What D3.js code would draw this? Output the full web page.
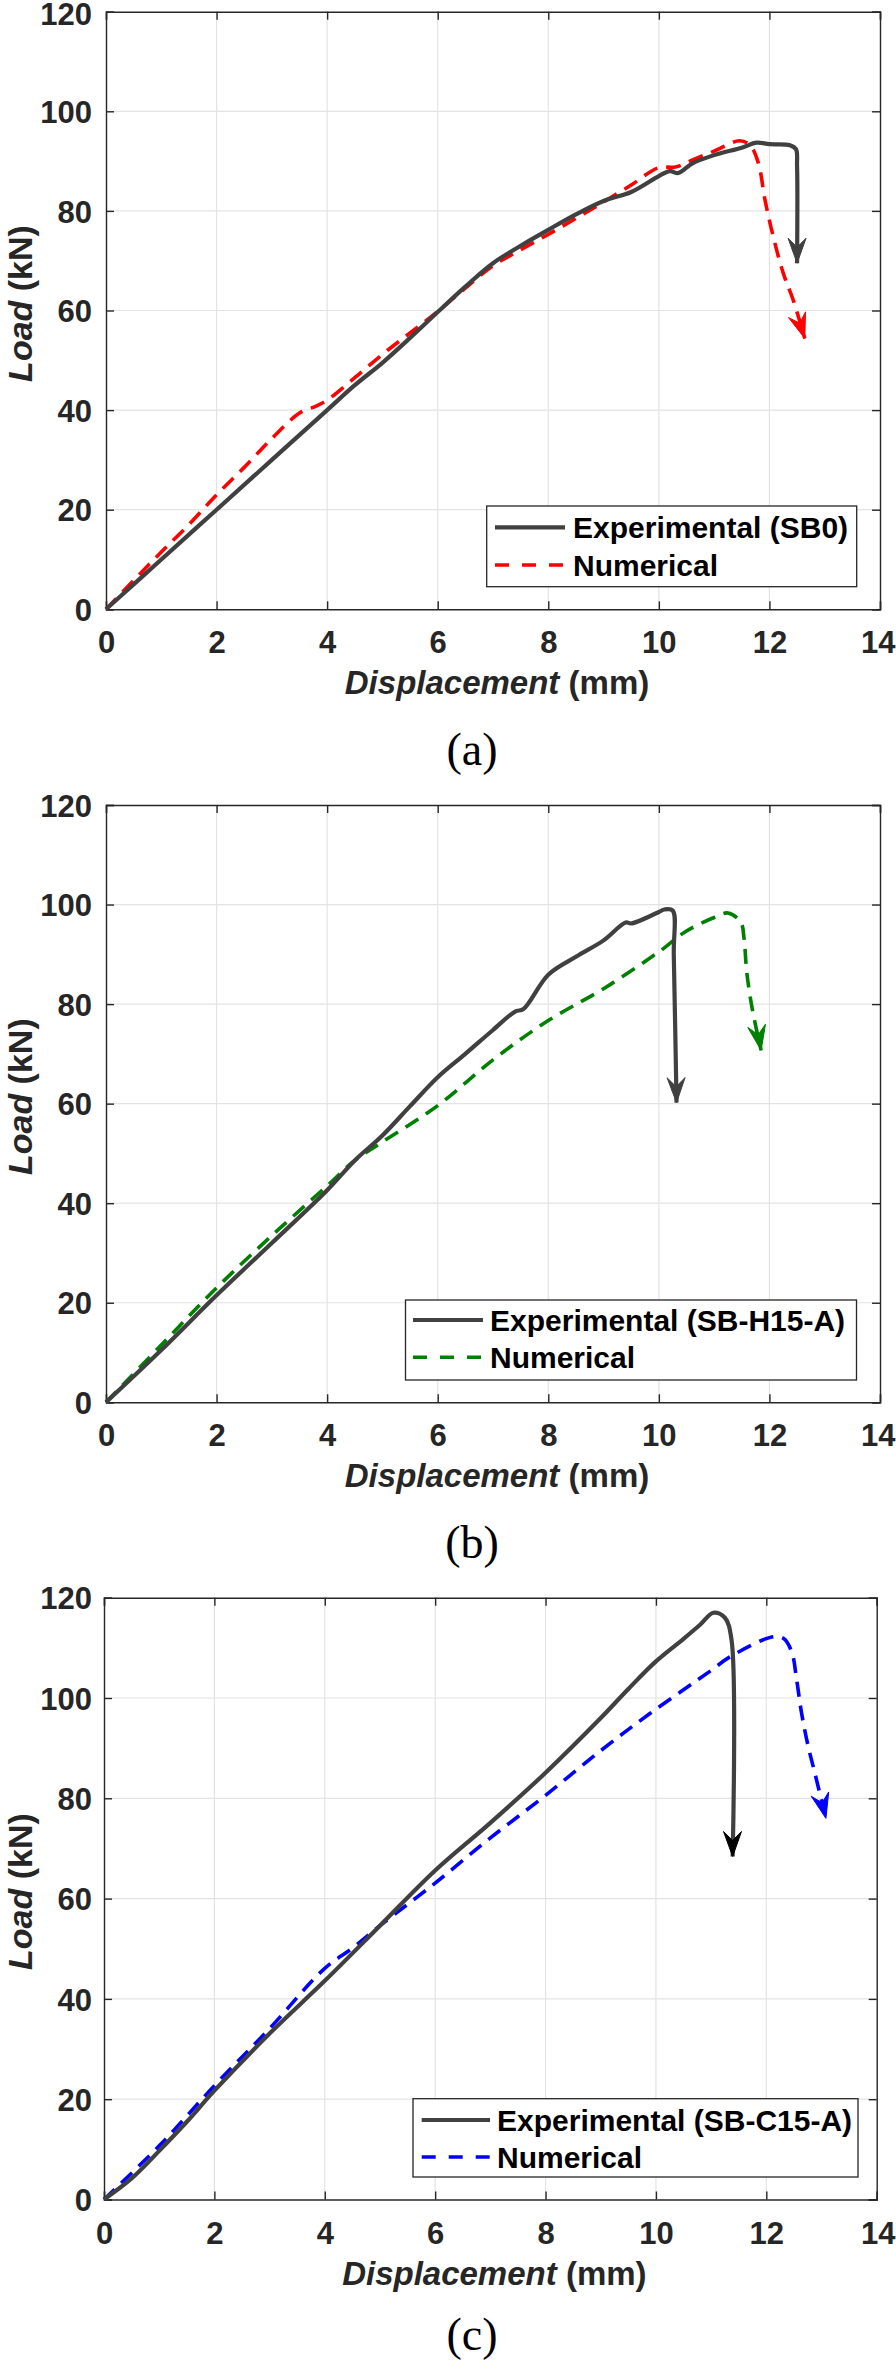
<!DOCTYPE html>
<html>
<head>
<meta charset="utf-8">
<script src="https://cdn.jsdelivr.net/npm/d3@7/dist/d3.min.js"></script>
<style>
  html, body { margin: 0; padding: 0; background: #fff; }
  svg { display: block; }
</style>
</head>
<body>
<svg id="chart" width="896" height="2362"></svg>
<script>
// ---------- data ----------
const xTicks = [0, 2, 4, 6, 8, 10, 12, 14];
const yTicks = [0, 20, 40, 60, 80, 100, 120];
const captions = ["(a)", "(b)", "(c)"];
const expLabels = ["Experimental (SB0)", "Experimental (SB-H15-A)", "Experimental (SB-C15-A)"];
const numLabel = "Numerical";

// (a) SB0
const expA = [[0,0],[0.5,5],[1,10],[2,20],[3,30],[4,40],[4.5,45],[5,49.5],[5.5,54.5],[6,59.7],[6.5,64.8],[7,69.5],[7.5,73],[8,76.2],[8.5,79.3],[9,82],[9.5,83.8],[10,87],[10.2,88],[10.35,87.6],[10.6,89.5],[11,91.2],[11.5,92.7],[11.77,93.7],[12,93.4],[12.37,93.2],[12.48,92.4],[12.5,89],[12.5,69.5]];
const numA = [[0,0],[0.5,5.8],[1,11.5],[1.5,17],[2,23],[2.5,28.5],[3,34.3],[3.5,39.4],[3.8,40.8],[4,42],[4.5,46.5],[5,51.2],[5.5,55.5],[6,59.8],[6.5,64.5],[7,69],[7.5,72.2],[8,75.3],[8.5,78.5],[9,81.8],[9.5,85.2],[10,88.7],[10.3,88.8],[10.6,90.2],[11,92],[11.46,94.1],[11.65,93.2],[11.8,89.6],[11.92,82.2],[12.07,74.8],[12.25,67.5],[12.43,62.1],[12.64,54.4]];

// (b) SB-H15-A
const expB = [[0,0],[1,10.5],[2,21.5],[3,32],[4,42.6],[4.5,48.6],[5,53.6],[5.5,59.5],[6,65.3],[6.5,70],[7,74.8],[7.4,78.5],[7.55,79],[8,85.9],[8.5,89.5],[9,92.8],[9.4,96.4],[9.5,96.2],[10,98.5],[10.1,99],[10.25,98.8],[10.27,90],[10.32,60.2]];
const numB = [[0,0],[1,11.5],[2,23],[3,33.5],[4,43.5],[4.5,48.6],[5,52.3],[6,59.6],[7,68.8],[8,76.7],[9,83.1],[10,90.5],[10.5,94.7],[11,97.4],[11.25,98.3],[11.48,96.5],[11.54,93.3],[11.59,86.4],[11.69,79],[11.85,70.7]];

// (c) SB-C15-A
const expC = [[0,0],[0.5,4.2],[1,9.7],[1.5,15.5],[2,21.7],[3,33.1],[4,43.6],[5,54.6],[6,65.6],[7,75.1],[8,85.1],[9,96],[9.5,101.8],[10,107.3],[10.5,111.8],[10.8,114.6],[11.04,117],[11.25,116],[11.37,111.6],[11.39,68.4]];
const numC = [[0,0],[1,10.7],[2,22.7],[3,34.1],[4,46.1],[4.5,50.1],[5,54.6],[6,63.1],[7,72.1],[8,80.6],[9,89.5],[9.89,96.9],[11,105.5],[11.34,108.2],[12.12,112.2],[12.31,111.9],[12.46,109.2],[12.55,103.6],[12.64,96.9],[12.76,90.3],[12.88,85],[13.08,76]];

const expSeries = [expA, expB, expC];
const numSeries = [numA, numB, numC];
const numColors = ["#ff0000", "#008000", "#0000ff"];
const expArrowColors = ["#404040", "#404040", "#000000"];

// ---------- layout ----------
const panels = [
  {top: 11.7, bottom: 609.3, left: 106, right: 880, legend: {x0: 486.7, x1: 856.7, y0: 506, y1: 586.7, lx0: 495, lx1: 565, tx: 573, r1: 527.3, r2: 565}, capY: 765},
  {top: 805, bottom: 1402.3, left: 106, right: 880, legend: {x0: 405.5, x1: 856.5, y0: 1300, y1: 1380, lx0: 413, lx1: 483, tx: 490, r1: 1320, r2: 1357.3}, capY: 1558},
  {top: 1597.7, bottom: 2199.5, left: 104, right: 876.7, legend: {x0: 413, x1: 858, y0: 2098.7, y1: 2177, lx0: 421.7, lx1: 490, tx: 497, r1: 2120, r2: 2157}, capY: 2350}
];

const svg = d3.select("#chart");
const FONT = "'Liberation Sans', Arial, Helvetica, sans-serif";
const axisColor = "#262626";

function arrowHead(g, p1, p2, color, x, y) {
  const ax = x(p1[0]), ay = y(p1[1]);
  const bx = x(p2[0]), by = y(p2[1]);
  let dx = bx - ax, dy = by - ay;
  const len = Math.hypot(dx, dy) || 1;
  dx /= len; dy /= len;
  const nx = -dy, ny = dx;
  const L = 25, W = 9, N = 9;
  const pts = [
    [bx, by],
    [bx - L * dx + W * nx, by - L * dy + W * ny],
    [bx - (L - N) * dx, by - (L - N) * dy],
    [bx - L * dx - W * nx, by - L * dy - W * ny]
  ];
  g.append("path")
    .attr("d", "M" + pts.map(p => p.join(",")).join("L") + "Z")
    .attr("fill", color)
    .attr("stroke", color)
    .attr("stroke-width", 1)
    .attr("stroke-linejoin", "miter");
}

panels.forEach((P, i) => {
  const x = d3.scaleLinear().domain([0, 14]).range([P.left, P.right]);
  const y = d3.scaleLinear().domain([0, 120]).range([P.bottom, P.top]);
  const g = svg.append("g");

  // grid
  g.append("g").selectAll("line").data(xTicks.slice(1, -1)).join("line")
    .attr("x1", d => x(d)).attr("x2", d => x(d))
    .attr("y1", P.top).attr("y2", P.bottom)
    .attr("stroke", "#e3e3e3").attr("stroke-width", 1.2);
  g.append("g").selectAll("line").data(yTicks.slice(1, -1)).join("line")
    .attr("y1", d => y(d)).attr("y2", d => y(d))
    .attr("x1", P.left).attr("x2", P.right)
    .attr("stroke", "#e3e3e3").attr("stroke-width", 1.2);

  // axes with d3 axis (inward ticks)
  const tl = 8;
  const axB = g.append("g").attr("transform", `translate(0,${P.bottom})`)
    .call(d3.axisBottom(x).tickValues(xTicks).tickSize(-tl).tickPadding(0).tickFormat(d3.format("d")));
  const axT = g.append("g").attr("transform", `translate(0,${P.top})`)
    .call(d3.axisTop(x).tickValues(xTicks).tickSize(-tl).tickFormat(""));
  const axL = g.append("g").attr("transform", `translate(${P.left},0)`)
    .call(d3.axisLeft(y).tickValues(yTicks).tickSize(-tl).tickPadding(0).tickFormat(d3.format("d")));
  const axR = g.append("g").attr("transform", `translate(${P.right},0)`)
    .call(d3.axisRight(y).tickValues(yTicks).tickSize(-tl).tickFormat(""));
  [axB, axT, axL, axR].forEach(a => {
    a.select(".domain").attr("stroke", axisColor).attr("stroke-width", 1.4);
    a.selectAll(".tick line").attr("stroke", axisColor).attr("stroke-width", 1.4);
  });
  axB.selectAll(".tick text")
    .attr("y", 44).attr("dy", null)
    .attr("font-family", FONT).attr("font-weight", "bold").attr("font-size", 31)
    .attr("fill", axisColor)
    .each(function(d) {
      // keep the last label inside the page
      if (d === xTicks[xTicks.length - 1]) {
        d3.select(this).attr("text-anchor", "end").attr("x", 895 - x(d));
      }
    });
  axL.selectAll(".tick text")
    .attr("x", -(P.left - 92)).attr("dy", null)
    .attr("y", d => (i === 0 && d === yTicks[yTicks.length - 1]) ? 13 : 11.2)
    .attr("font-family", FONT).attr("font-weight", "bold").attr("font-size", 31)
    .attr("fill", axisColor);
  axT.selectAll(".tick text").remove();
  axR.selectAll(".tick text").remove();

  // axis titles
  const xt = g.append("text")
    .attr("x", (P.left + P.right) / 2 + 4).attr("y", P.bottom + 85)
    .attr("text-anchor", "middle")
    .attr("font-family", FONT).attr("font-weight", "bold").attr("font-size", 33)
    .attr("fill", axisColor);
  xt.append("tspan").attr("font-style", "italic").text("Displacement");
  xt.append("tspan").text(" (mm)");

  const cy = (P.top + P.bottom) / 2 - 7;
  const yt = g.append("text")
    .attr("transform", `translate(32,${cy}) rotate(-90)`)
    .attr("text-anchor", "middle")
    .attr("font-family", FONT).attr("font-weight", "bold").attr("font-size", 34)
    .attr("fill", axisColor);
  yt.append("tspan").attr("font-style", "italic").text("Load");
  yt.append("tspan").text(" (kN)");

  // curves
  const line = d3.line().x(d => x(d[0])).y(d => y(d[1])).curve(d3.curveCatmullRom.alpha(0.5));
  const num = numSeries[i], exp = expSeries[i];

  g.append("path").datum(num).attr("d", line)
    .attr("fill", "none").attr("stroke", numColors[i]).attr("stroke-width", 3.6)
    .attr("stroke-dasharray", "15,9");
  arrowHead(g, num[num.length - 3], num[num.length - 1], numColors[i], x, y);

  g.append("path").datum(exp).attr("d", line)
    .attr("fill", "none").attr("stroke", "#404040").attr("stroke-width", 4.2)
    .attr("stroke-linejoin", "round");
  arrowHead(g, exp[exp.length - 2], exp[exp.length - 1], expArrowColors[i], x, y);

  // legend
  const L = P.legend;
  g.append("rect").attr("x", L.x0).attr("y", L.y0)
    .attr("width", L.x1 - L.x0).attr("height", L.y1 - L.y0)
    .attr("fill", "#fff").attr("stroke", axisColor).attr("stroke-width", 1.3);
  g.append("line").attr("x1", L.lx0).attr("x2", L.lx1).attr("y1", L.r1).attr("y2", L.r1)
    .attr("stroke", "#404040").attr("stroke-width", 4.2);
  g.append("line").attr("x1", L.lx0).attr("x2", L.lx1).attr("y1", L.r2).attr("y2", L.r2)
    .attr("stroke", numColors[i]).attr("stroke-width", 3.6).attr("stroke-dasharray", "14,13");
  g.append("text").attr("x", L.tx).attr("y", L.r1 + 10.5)
    .attr("font-family", FONT).attr("font-weight", "bold").attr("font-size", 30)
    .attr("fill", "#000").text(expLabels[i]);
  g.append("text").attr("x", L.tx).attr("y", L.r2 + 10.5)
    .attr("font-family", FONT).attr("font-weight", "bold").attr("font-size", 30)
    .attr("fill", "#000").text(numLabel);

  // caption
  svg.append("text").attr("x", 472).attr("y", P.capY)
    .attr("text-anchor", "middle")
    .attr("font-family", "'Liberation Serif', 'Times New Roman', serif")
    .attr("font-size", 46).attr("fill", "#000")
    .text(captions[i]);
});
</script>
</body>
</html>
